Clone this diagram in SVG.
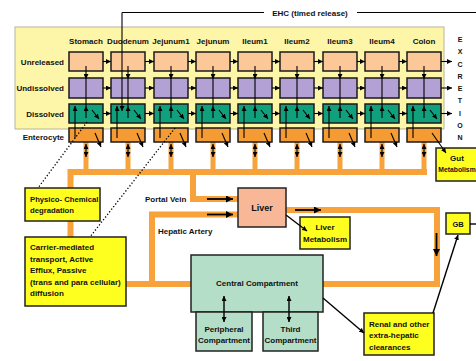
<svg xmlns="http://www.w3.org/2000/svg" width="476" height="361" viewBox="0 0 476 361">
<style>
.t{font-family:"Liberation Sans",Arial,sans-serif;font-weight:bold;font-size:8px;fill:#111}
.m{text-anchor:middle}
.r{text-anchor:end}
.bx{stroke:#1a1a1a;stroke-width:1.5}
.u{fill:#fcc898}
.ud{fill:#b3a1d6}
.d{fill:#10a07c}
.e{fill:#f59b33}
.yb{fill:#ffff1f;stroke:#222;stroke-width:1.5}
.cc{fill:#b4dec8;stroke:#222;stroke-width:1.5}
.pipe{stroke:#f7a23a;fill:none;stroke-width:6}
.pv{stroke:#f7a23a;stroke-width:5}
.a{stroke:#000;stroke-width:1.1;fill:none;marker-end:url(#ah)}
.aa{stroke:#000;stroke-width:1.1;fill:none;marker-end:url(#ah);marker-start:url(#ah)}
.l{stroke:#000;stroke-width:1.1;fill:none}
.ba{stroke:#000;stroke-width:1.8;fill:none;marker-end:url(#bh)}
.dot{stroke:#000;stroke-width:1.3;stroke-dasharray:1.3,2;fill:none}
</style>
<defs>
<marker id="ah" viewBox="0 0 6 6" markerWidth="5" markerHeight="5" refX="6" refY="3" orient="auto-start-reverse" markerUnits="userSpaceOnUse"><path d="M0,0L6,3L0,6z" fill="#000"/></marker>
<marker id="bh" viewBox="0 0 8 8" markerWidth="8" markerHeight="7" refX="8" refY="4" orient="auto" markerUnits="userSpaceOnUse"><path d="M0,0L8,4L0,8z" fill="#000"/></marker>
</defs>
<rect x="15" y="27" width="429" height="102" fill="#fdf6a8" stroke="#b8b49a" stroke-width="1"/>
<g id="pipes">
<path class="pipe" d="M70.5,237V172H427" stroke-width="7"/>
<path class="pipe" d="M193,172V199H238"/>
<path class="pipe" d="M238,214.5H152V284"/>
<path class="pipe" d="M126,284H191" stroke-width="7"/>
<path class="pipe" d="M286,210H437V284H323" stroke-width="7"/>
<line class="pv" x1="86" y1="142" x2="86" y2="172"/>
<line class="pv" x1="128" y1="142" x2="128" y2="172"/>
<line class="pv" x1="171" y1="142" x2="171" y2="172"/>
<line class="pv" x1="213" y1="142" x2="213" y2="172"/>
<line class="pv" x1="255" y1="142" x2="255" y2="172"/>
<line class="pv" x1="297" y1="142" x2="297" y2="172"/>
<line class="pv" x1="340" y1="142" x2="340" y2="172"/>
<line class="pv" x1="382" y1="142" x2="382" y2="172"/>
<line class="pv" x1="424" y1="142" x2="424" y2="172"/>
</g>
<g id="stomach"><rect class="bx u" x="69" y="52" width="34" height="19"/><rect class="bx ud" x="69" y="78" width="34" height="20"/><rect class="bx d" x="69" y="104" width="34" height="19"/><rect class="bx e" x="69" y="128" width="34" height="14"/></g>
<g id="duodenum"><rect class="bx u" x="111" y="52" width="34" height="19"/><rect class="bx ud" x="111" y="78" width="34" height="20"/><rect class="bx d" x="111" y="104" width="34" height="19"/><rect class="bx e" x="111" y="128" width="34" height="14"/></g>
<g id="jejunum1"><rect class="bx u" x="154" y="52" width="34" height="19"/><rect class="bx ud" x="154" y="78" width="34" height="20"/><rect class="bx d" x="154" y="104" width="34" height="19"/><rect class="bx e" x="154" y="128" width="34" height="14"/></g>
<g id="jejunum"><rect class="bx u" x="196" y="52" width="34" height="19"/><rect class="bx ud" x="196" y="78" width="34" height="20"/><rect class="bx d" x="196" y="104" width="34" height="19"/><rect class="bx e" x="196" y="128" width="34" height="14"/></g>
<g id="ileum1"><rect class="bx u" x="238" y="52" width="34" height="19"/><rect class="bx ud" x="238" y="78" width="34" height="20"/><rect class="bx d" x="238" y="104" width="34" height="19"/><rect class="bx e" x="238" y="128" width="34" height="14"/></g>
<g id="ileum2"><rect class="bx u" x="280" y="52" width="34" height="19"/><rect class="bx ud" x="280" y="78" width="34" height="20"/><rect class="bx d" x="280" y="104" width="34" height="19"/><rect class="bx e" x="280" y="128" width="34" height="14"/></g>
<g id="ileum3"><rect class="bx u" x="323" y="52" width="34" height="19"/><rect class="bx ud" x="323" y="78" width="34" height="20"/><rect class="bx d" x="323" y="104" width="34" height="19"/><rect class="bx e" x="323" y="128" width="34" height="14"/></g>
<g id="ileum4"><rect class="bx u" x="365" y="52" width="34" height="19"/><rect class="bx ud" x="365" y="78" width="34" height="20"/><rect class="bx d" x="365" y="104" width="34" height="19"/><rect class="bx e" x="365" y="128" width="34" height="14"/></g>
<g id="colon"><rect class="bx u" x="407" y="52" width="34" height="19"/><rect class="bx ud" x="407" y="78" width="34" height="20"/><rect class="bx d" x="407" y="104" width="34" height="19"/><rect class="bx e" x="407" y="128" width="34" height="14"/></g>
<g id="labels">
<text class="t m" x="86" y="44">Stomach</text>
<text class="t m" x="128" y="44">Duodenum</text>
<text class="t m" x="171" y="44">Jejunum1</text>
<text class="t m" x="213" y="44">Jejunum</text>
<text class="t m" x="255" y="44">Ileum1</text>
<text class="t m" x="297" y="44">Ileum2</text>
<text class="t m" x="340" y="44">Ileum3</text>
<text class="t m" x="382" y="44">Ileum4</text>
<text class="t m" x="424" y="44">Colon</text>
<text class="t r" x="64" y="65">Unreleased</text>
<text class="t r" x="64" y="91">Undissolved</text>
<text class="t r" x="64" y="117">Dissolved</text>
<text class="t r" x="64" y="140">Enterocyte</text>
<text class="t m" x="310" y="16">EHC (timed release)</text>
<g class="t m" style="font-size:7px">
<text x="460" y="42">E</text><text x="460" y="54.3">X</text><text x="460" y="66.5">C</text><text x="460" y="78.8">R</text><text x="460" y="91">E</text><text x="460" y="103.3">T</text><text x="460" y="115.5">I</text><text x="460" y="127.8">O</text><text x="460" y="140">N</text>
</g>
<text class="t" x="145" y="202">Portal Vein</text>
<text class="t" x="158" y="234">Hepatic Artery</text>
</g>
<g id="physico"><rect class="yb" x="25" y="188" width="75" height="33"/><text class="t" x="30" y="201.5" style="font-size:7.7px">Physico- Chemical</text><text class="t" x="30" y="213" style="font-size:7.7px">degradation</text></g>
<g id="carrier"><rect class="yb" x="25" y="237" width="101" height="69"/><text class="t" x="30" y="250">Carrier-mediated</text><text class="t" x="30" y="261.5">transport, Active</text><text class="t" x="30" y="273">Efflux, Passive</text><text class="t" x="30" y="284.5">(trans and para cellular)</text><text class="t" x="30" y="296">diffusion</text></g>
<g id="liver"><rect x="238" y="188" width="48" height="39" fill="#f8b898" stroke="#222" stroke-width="1.5"/><text class="t m" x="262" y="211" style="font-size:9px">Liver</text></g>
<g id="liver-metabolism"><rect class="yb" x="300" y="217" width="50" height="32"/><text class="t m" x="325" y="230">Liver</text><text class="t m" x="325" y="242">Metabolism</text></g>
<g id="gut-metabolism"><rect class="yb" x="436" y="148" width="52" height="33"/><text class="t m" x="457" y="161">Gut</text><text class="t m" x="457" y="172" style="font-size:6.8px">Metabolism</text></g>
<g id="gb"><rect class="yb" x="446" y="213" width="24" height="21"/><text class="t m" x="458" y="227" style="font-size:7.5px">GB</text></g>
<g id="central"><rect class="cc" x="191" y="255" width="132" height="57"/><text class="t m" x="257" y="286">Central Compartment</text></g>
<g id="peripheral"><rect class="cc" x="196" y="312" width="56" height="39"/><text class="t m" x="224" y="332">Peripheral</text><text class="t m" x="224" y="343">Compartment</text></g>
<g id="third"><rect class="cc" x="263" y="312" width="55" height="39"/><text class="t m" x="290.5" y="332">Third</text><text class="t m" x="290.5" y="343">Compartment</text></g>
<g id="renal"><rect class="yb" x="364" y="313" width="70" height="42"/><text class="t" x="369" y="326.5">Renal and other</text><text class="t" x="369" y="338">extra-hepatic</text><text class="t" x="369" y="349.5">clearances</text></g>
<g id="connectors">
<path class="l" d="M122,12.5H264M357,12.5H476"/>
<line class="a" x1="122" y1="12.5" x2="122" y2="111"/>
<line class="a" x1="103" y1="61.5" x2="111" y2="61.5"/><line class="a" x1="103" y1="88" x2="111" y2="88"/><line class="a" x1="103" y1="113.5" x2="111" y2="113.5"/>
<line class="a" x1="145" y1="61.5" x2="154" y2="61.5"/><line class="a" x1="145" y1="88" x2="154" y2="88"/><line class="a" x1="145" y1="113.5" x2="154" y2="113.5"/>
<line class="a" x1="188" y1="61.5" x2="196" y2="61.5"/><line class="a" x1="188" y1="88" x2="196" y2="88"/><line class="a" x1="188" y1="113.5" x2="196" y2="113.5"/>
<line class="a" x1="230" y1="61.5" x2="238" y2="61.5"/><line class="a" x1="230" y1="88" x2="238" y2="88"/><line class="a" x1="230" y1="113.5" x2="238" y2="113.5"/>
<line class="a" x1="272" y1="61.5" x2="280" y2="61.5"/><line class="a" x1="272" y1="88" x2="280" y2="88"/><line class="a" x1="272" y1="113.5" x2="280" y2="113.5"/>
<line class="a" x1="314" y1="61.5" x2="323" y2="61.5"/><line class="a" x1="314" y1="88" x2="323" y2="88"/><line class="a" x1="314" y1="113.5" x2="323" y2="113.5"/>
<line class="a" x1="357" y1="61.5" x2="365" y2="61.5"/><line class="a" x1="357" y1="88" x2="365" y2="88"/><line class="a" x1="357" y1="113.5" x2="365" y2="113.5"/>
<line class="a" x1="399" y1="61.5" x2="407" y2="61.5"/><line class="a" x1="399" y1="88" x2="407" y2="88"/><line class="a" x1="399" y1="113.5" x2="407" y2="113.5"/>
<line class="a" x1="441" y1="61.5" x2="452" y2="61.5"/><line class="a" x1="441" y1="88" x2="452" y2="88"/><line class="a" x1="441" y1="113.5" x2="452" y2="113.5"/>
<path class="l" d="M86,79V106M128,79V106M171,79V106M213,79V106M255,79V106M297,79V106M340,79V106M382,79V106M424,79V106"/>
<line class="a" x1="86" y1="66" x2="86" y2="79"/><line class="a" x1="86" y1="118" x2="86" y2="106"/><line class="a" x1="75" y1="138" x2="75" y2="106"/><line class="a" x1="92" y1="110" x2="99" y2="119"/><line class="a" x1="95" y1="133" x2="101" y2="147"/><line class="aa" x1="86" y1="144" x2="86" y2="157"/>
<line class="a" x1="128" y1="66" x2="128" y2="79"/><line class="a" x1="128" y1="118" x2="128" y2="106"/><line class="a" x1="117" y1="138" x2="117" y2="106"/><line class="a" x1="134" y1="110" x2="141" y2="119"/><line class="a" x1="137" y1="133" x2="143" y2="147"/><line class="aa" x1="128" y1="144" x2="128" y2="157"/>
<line class="a" x1="171" y1="66" x2="171" y2="79"/><line class="a" x1="171" y1="118" x2="171" y2="106"/><line class="a" x1="160" y1="138" x2="160" y2="106"/><line class="a" x1="177" y1="110" x2="184" y2="119"/><line class="a" x1="180" y1="133" x2="186" y2="147"/><line class="aa" x1="171" y1="144" x2="171" y2="157"/>
<line class="a" x1="213" y1="66" x2="213" y2="79"/><line class="a" x1="213" y1="118" x2="213" y2="106"/><line class="a" x1="202" y1="138" x2="202" y2="106"/><line class="a" x1="219" y1="110" x2="226" y2="119"/><line class="a" x1="222" y1="133" x2="228" y2="147"/><line class="aa" x1="213" y1="144" x2="213" y2="157"/>
<line class="a" x1="255" y1="66" x2="255" y2="79"/><line class="a" x1="255" y1="118" x2="255" y2="106"/><line class="a" x1="244" y1="138" x2="244" y2="106"/><line class="a" x1="261" y1="110" x2="268" y2="119"/><line class="a" x1="264" y1="133" x2="270" y2="147"/><line class="aa" x1="255" y1="144" x2="255" y2="157"/>
<line class="a" x1="297" y1="66" x2="297" y2="79"/><line class="a" x1="297" y1="118" x2="297" y2="106"/><line class="a" x1="286" y1="138" x2="286" y2="106"/><line class="a" x1="303" y1="110" x2="310" y2="119"/><line class="a" x1="306" y1="133" x2="312" y2="147"/><line class="aa" x1="297" y1="144" x2="297" y2="157"/>
<line class="a" x1="340" y1="66" x2="340" y2="79"/><line class="a" x1="340" y1="118" x2="340" y2="106"/><line class="a" x1="329" y1="138" x2="329" y2="106"/><line class="a" x1="346" y1="110" x2="353" y2="119"/><line class="a" x1="349" y1="133" x2="355" y2="147"/><line class="aa" x1="340" y1="144" x2="340" y2="157"/>
<line class="a" x1="382" y1="66" x2="382" y2="79"/><line class="a" x1="382" y1="118" x2="382" y2="106"/><line class="a" x1="371" y1="138" x2="371" y2="106"/><line class="a" x1="388" y1="110" x2="395" y2="119"/><line class="a" x1="391" y1="133" x2="397" y2="147"/><line class="aa" x1="382" y1="144" x2="382" y2="157"/>
<line class="a" x1="424" y1="66" x2="424" y2="79"/><line class="a" x1="424" y1="118" x2="424" y2="106"/><line class="a" x1="413" y1="138" x2="413" y2="106"/><line class="a" x1="430" y1="110" x2="437" y2="119"/><line class="a" x1="432" y1="133" x2="446" y2="153"/><line class="aa" x1="424" y1="144" x2="424" y2="157"/>
<line class="dot" x1="87" y1="122" x2="38" y2="188"/>
<line class="dot" x1="175" y1="128" x2="90" y2="237"/>
<line class="ba" x1="207" y1="199" x2="233" y2="199"/>
<line class="ba" x1="207" y1="214.5" x2="233" y2="214.5"/>
<line class="ba" x1="295" y1="210" x2="321" y2="210"/>
<line class="ba" x1="436.5" y1="233" x2="436.5" y2="256"/>
<line class="a" x1="286" y1="215" x2="307" y2="231" style="stroke-width:1.4"/>
<line class="a" x1="323" y1="298" x2="364" y2="333" style="stroke-width:1.4"/>
<line class="a" x1="433" y1="313" x2="458" y2="235" style="stroke-width:1.4"/>
<line class="l" x1="470" y1="224" x2="476" y2="224" style="stroke-width:1.4"/>
<line class="aa" x1="224" y1="296" x2="224" y2="322" style="stroke-width:1.4"/>
<line class="aa" x1="289" y1="296" x2="289" y2="322" style="stroke-width:1.4"/>
</g>
</svg>
